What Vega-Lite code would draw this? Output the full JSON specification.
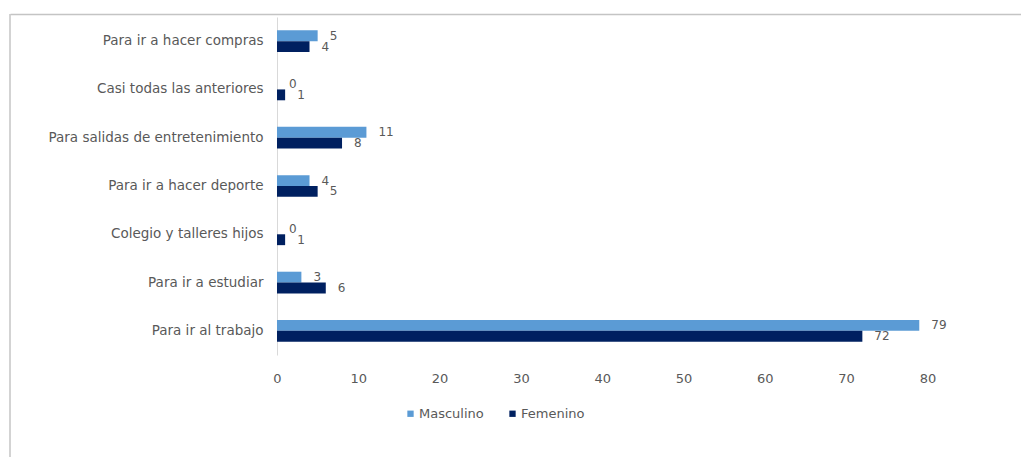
{
  "$schema": "https://vega.github.io/schema/vega-lite/v6.json",
  "width": 1011,
  "height": 443,
  "autosize": {"type": "none"},
  "padding": {"left": 10, "top": 14, "right": 0, "bottom": 0},
  "background": "white",
  "config": {
    "view": {"stroke": null},
    "font": "DejaVu Sans",
    "axis": {"labelFont": "DejaVu Sans", "labelColor": "#595959", "labelFontSize": 13, "labelLimit": 400, "grid": false, "ticks": false, "tickSize": 0, "title": null},
    "legend": {"labelFont": "DejaVu Sans", "labelColor": "#595959", "labelFontSize": 13}
  },
  "data": {
    "values": [
      {"cat": "Para ir a hacer compras", "serie": "Masculino", "value": 5},
      {"cat": "Para ir a hacer compras", "serie": "Femenino", "value": 4},
      {"cat": "Casi todas las anteriores", "serie": "Masculino", "value": 0},
      {"cat": "Casi todas las anteriores", "serie": "Femenino", "value": 1},
      {"cat": "Para salidas de entretenimiento", "serie": "Masculino", "value": 11},
      {"cat": "Para salidas de entretenimiento", "serie": "Femenino", "value": 8},
      {"cat": "Para ir a hacer deporte", "serie": "Masculino", "value": 4},
      {"cat": "Para ir a hacer deporte", "serie": "Femenino", "value": 5},
      {"cat": "Colegio y talleres hijos", "serie": "Masculino", "value": 0},
      {"cat": "Colegio y talleres hijos", "serie": "Femenino", "value": 1},
      {"cat": "Para ir a estudiar", "serie": "Masculino", "value": 3},
      {"cat": "Para ir a estudiar", "serie": "Femenino", "value": 6},
      {"cat": "Para ir al trabajo", "serie": "Masculino", "value": 79},
      {"cat": "Para ir al trabajo", "serie": "Femenino", "value": 72}
    ]
  },
  "encoding": {
    "y": {
      "field": "cat", "type": "nominal", "sort": null,
      "scale": {"range": [3, 341], "paddingInner": 0.55, "paddingOuter": 0.275}
    },
    "yOffset": {"field": "serie", "type": "nominal", "sort": ["Masculino", "Femenino"]},
    "x": {
      "field": "value", "type": "quantitative",
      "scale": {"domain": [-32.841, 91.513], "nice": false, "zero": false}
    }
  },
  "layer": [
    {
      "mark": {"type": "bar"},
      "encoding": {
        "color": {
          "field": "serie", "type": "nominal",
          "scale": {"domain": ["Masculino", "Femenino"], "range": ["#5B9BD5", "#002060"]},
          "legend": {"orient": "none", "direction": "horizontal", "legendX": 394, "legendY": 393, "title": null, "symbolType": "square", "symbolSize": 40, "symbolStrokeWidth": 0, "columnPadding": 22, "labelOffset": 2}
        },
        "y": {
          "field": "cat", "type": "nominal", "sort": null,
          "axis": {"orient": "left", "offset": -267, "domain": true, "domainColor": "#d9d9d9", "domainWidth": 1, "labelPadding": 14, "labels": true, "labelFontSize": 13.5}
        },
        "x": {
          "field": "value", "type": "quantitative",
          "axis": {"orient": "bottom", "offset": -102, "domain": false, "labelPadding": 17, "values": [0, 10, 20, 30, 40, 50, 60, 70, 80]}
        }
      }
    },
    {
      "mark": {"type": "text", "align": "left", "baseline": "middle", "dx": 12, "color": "#595959", "fontSize": 12, "font": "DejaVu Sans"},
      "encoding": {
        "text": {"field": "value", "type": "quantitative"},
        "x": {
          "field": "value", "type": "quantitative",
          "axis": {"orient": "top", "offset": 0, "domain": true, "domainColor": "#c4c4c4", "domainWidth": 1.5, "labels": false, "ticks": false}
        }
      }
    },
    {
      "data": {"values": [{"edge": -32.841}]},
      "mark": {"type": "rule", "color": "#c4c4c4", "strokeWidth": 1.5},
      "encoding": {
        "x": {"field": "edge", "type": "quantitative", "axis": null},
        "y": null,
        "yOffset": null
      }
    }
  ],
  "resolve": {"axis": {"x": "independent"}}
}
